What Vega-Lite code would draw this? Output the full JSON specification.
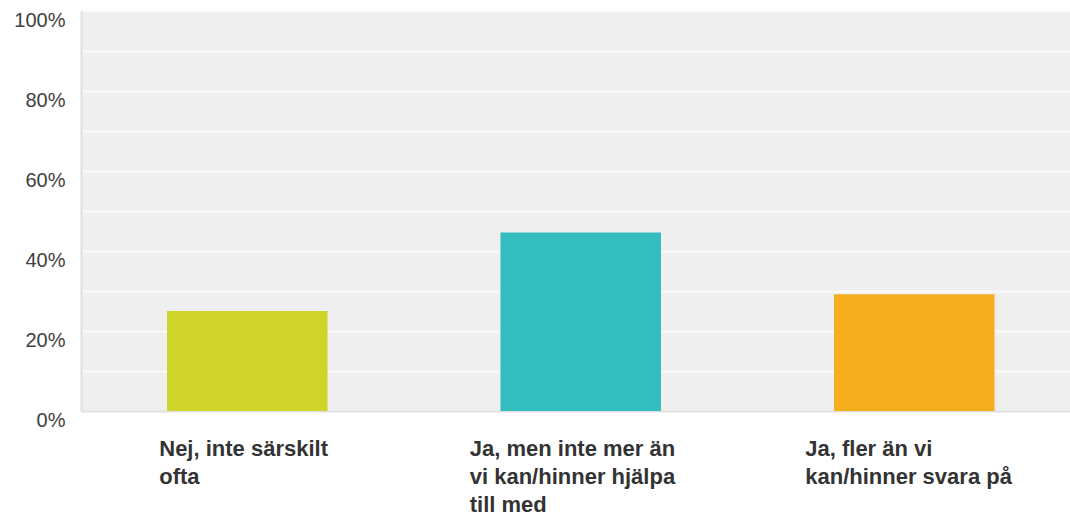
{
  "$schema": "https://vega.github.io/schema/vega-lite/v6.json",
  "autosize": "none",
  "width": 989,
  "height": 400,
  "padding": {"left": 81, "top": 11, "right": 0, "bottom": 107},
  "background": "#ffffff",
  "config": {
    "view": {"fill": "#efefef", "stroke": null}
  },
  "data": {
    "values": [
      {"svar": "Nej, inte särskilt ofta", "andel": 25.0},
      {"svar": "Ja, men inte mer än vi kan/hinner hjälpa till med", "andel": 44.6},
      {"svar": "Ja, fler än vi kan/hinner svara på", "andel": 29.2}
    ]
  },
  "mark": {"type": "bar"},
  "encoding": {
    "x": {
      "field": "svar",
      "type": "nominal",
      "sort": null,
      "scale": {"paddingInner": 0.5187, "paddingOuter": 0.2421, "align": 0.5325},
      "axis": {
        "title": null,
        "labelAngle": 0,
        "ticks": false,
        "grid": false,
        "domainColor": "#e0e0e0",
        "domainWidth": 2,
        "labelFont": "Liberation Sans",
        "labelFontWeight": "bold",
        "labelFontSize": 22,
        "labelColor": "#333333",
        "labelAlign": "left",
        "labelBaseline": "top",
        "labelPadding": 27,
        "labelLineHeight": 28,
        "labelLimit": 400,
        "labelOffset": {"expr": "datum.value == 'Nej, inte särskilt ofta' ? -88 : datum.value == 'Ja, fler än vi kan/hinner svara på' ? -109 : -111"},
        "labelExpr": "datum.value == 'Nej, inte särskilt ofta' ? ['Nej, inte särskilt', 'ofta'] : datum.value == 'Ja, fler än vi kan/hinner svara på' ? ['Ja, fler än vi', 'kan/hinner svara på'] : ['Ja, men inte mer än', 'vi kan/hinner hjälpa', 'till med']"
      }
    },
    "y": {
      "field": "andel",
      "type": "quantitative",
      "scale": {"domain": [0, 100], "nice": false},
      "axis": {
        "title": null,
        "values": [0, 10, 20, 30, 40, 50, 60, 70, 80, 90, 100],
        "ticks": false,
        "grid": true,
        "gridColor": "#f9f9f9",
        "gridWidth": 2,
        "domainColor": "#e0e0e0",
        "domainWidth": 2,
        "labelFont": "Liberation Sans",
        "labelFontSize": 20,
        "labelColor": "#404040",
        "labelPadding": 16,
        "labelBaseline": "middle",
        "labelOffset": 9,
        "labelExpr": "round(datum.value / 10) % 2 == 0 ? datum.value + '%' : ''"
      }
    },
    "color": {
      "field": "svar",
      "type": "nominal",
      "sort": null,
      "scale": {"range": ["#cfd42a", "#33bdbe", "#f5af1e"]},
      "legend": null
    }
  }
}
